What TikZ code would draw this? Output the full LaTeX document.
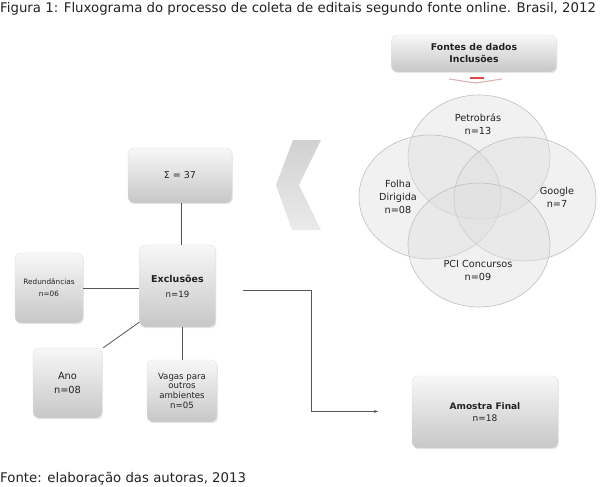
\documentclass[tikz,border=0pt]{standalone}
\usepackage{fontspec}
\setmainfont{DejaVu Sans}
\usetikzlibrary{shapes.geometric,shadows,arrows.meta}
\definecolor{linec}{HTML}{555555}
\definecolor{txt}{HTML}{222222}
\definecolor{markred}{HTML}{E04848}
\definecolor{markpink}{HTML}{D8B4B4}
\tikzset{
  gbox/.style={rounded corners=6pt, draw=black!12, top color=black!3, bottom color=black!22,
    drop shadow={opacity=0.18, shadow xshift=0.8pt, shadow yshift=-1.2pt},
    inner sep=0pt, align=center, text=txt},
  vcirc/.style={ellipse, minimum width=142pt, minimum height=124pt, inner sep=0pt,
    draw=black!25, fill=black!13, fill opacity=0.42, line width=0.6pt},
  clab/.style={align=center, text=txt, font=\fontsize{9.7}{13}\selectfont},
  conn/.style={draw=linec, line width=0.8pt},
}
\begin{document}
\begin{tikzpicture}[x=1pt,y=-1pt]
\useasboundingbox (0,0) rectangle (600,487);
% title and footer
\node[anchor=west, text=txt, inner sep=0pt, font=\fontsize{13.3}{15}\selectfont] (title) at (0,9) {Figura 1: Fluxograma do processo de coleta de editais segundo fonte online. Brasil, 2012};
\node[anchor=west, text=txt, inner sep=0pt, font=\fontsize{13.3}{15}\selectfont] (foot) at (0,479) {Fonte: elaboração das autoras, 2013};

% top box
\node[gbox, minimum width=165pt, minimum height=37pt, font=\bfseries\fontsize{9.3}{12}\selectfont] (fontes) at (474,53.5) {Fontes de dados\\Inclusões};
% small marker
\draw[markpink, line width=1.1pt] (449,79) -- (475.5,83) -- (502,79);
\draw[markred, line width=2pt] (470,77.8) -- (484,77.8);

% circles
\node[vcirc] (cpet) at (479,157) {};
\node[vcirc] (cfol) at (430,197) {};
\node[vcirc] (cgoo) at (525,199) {};
\node[vcirc] (cpci) at (479,245) {};
\node[clab] (lpet) at (478,124) {Petrobrás\\n=13};
\node[clab] (lfol) at (398,197) {Folha\\Dirigida\\n=08};
\node[clab] (lgoo) at (557,197) {Google\\n=7};
\node[clab] (lpci) at (478,270) {PCI Concursos\\n=09};

% chevron
\shade[top color=black!18, bottom color=black!8] (293,140) -- (321,140) -- (299,185) -- (321,230) -- (292,230) -- (276,185) -- cycle;

% left boxes
\node[gbox, minimum width=104pt, minimum height=55pt, font=\fontsize{9.5}{12}\selectfont] (sig) at (180,175.5) {Σ = 37};
\node[gbox, minimum width=76pt, minimum height=82pt, font=\fontsize{9.5}{15}\selectfont] (exc) at (177.5,286) {\textbf{Exclusões}\\{\fontsize{8.6}{15}\selectfont n=19}};
\node[gbox, minimum width=68pt, minimum height=70pt, font=\fontsize{7.3}{12}\selectfont] (red) at (49,288) {Redundâncias\\n=06};
\node[gbox, minimum width=69pt, minimum height=70pt, font=\fontsize{9.8}{14}\selectfont] (ano) at (67.5,383) {Ano\\n=08};
\node[gbox, minimum width=70pt, minimum height=62pt, font=\fontsize{8.6}{9.5}\selectfont] (vag) at (182,391) {Vagas para\\outros\\ambientes\\[1pt]n=05};
\node[gbox, minimum width=146pt, minimum height=72pt, font=\fontsize{9}{11.5}\selectfont] (amo) at (485,412) {\textbf{Amostra Final}\\n=18};

% connectors
\draw[conn] (sig.south -| 181,0) -- (exc.north -| 181,0);
\draw[conn] (red.east) -- (red.east -| exc.west);
\draw[conn] ([yshift=5pt]exc.south west) -- ([xshift=1pt]ano.north east);
\draw[conn] (vag.north |- exc.south) -- (vag.north);
\coordinate (a0) at (243,290);
\coordinate (a1) at (378,411.5);
\draw[conn, -{Stealth[length=4pt,width=3pt]}] (a0) -- (311,290) |- (a1);
\end{tikzpicture}
\end{document}
